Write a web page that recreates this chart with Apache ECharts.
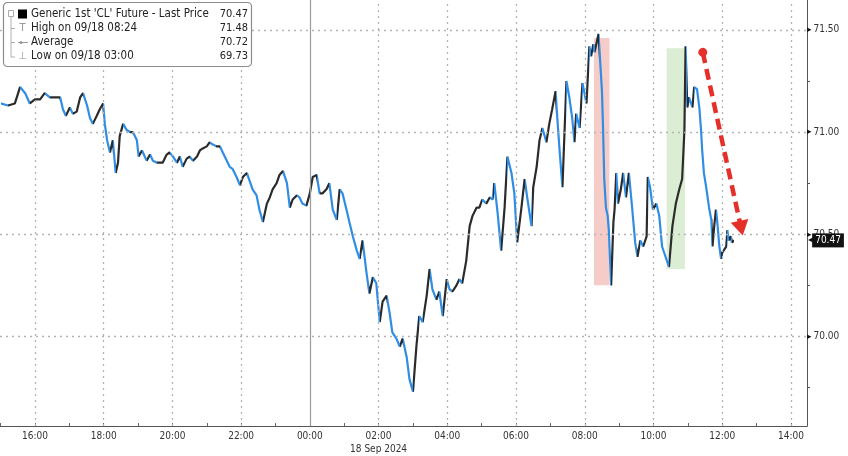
<!DOCTYPE html>
<html><head><meta charset="utf-8">
<script src="https://cdn.jsdelivr.net/npm/echarts@6/dist/echarts.min.js"></script>
<style>html,body{margin:0;padding:0;background:#fff}#c{width:848px;height:456px}</style>
</head><body><div id="c"></div>
<script>
// ---- data ----
const times = [
 '15:00','15:13','15:25','15:34','15:43','15:51','16:00','16:09','16:17','16:26',
 '16:35','16:44','16:49','16:54','17:01','17:06','17:13','17:19','17:24','17:31',
 '17:36','17:41','17:48','17:53','17:59','18:02','18:06','18:11','18:16','18:21',
 '18:25','18:28','18:34','18:40','18:46','18:51','18:58','19:01','19:07','19:15',
 '19:21','19:26','19:33','19:38','19:43','19:50','19:55','20:01','20:08','20:13',
 '20:18','20:25','20:30','20:36','20:43','20:48','20:53','21:00','21:05','21:10',
 '21:17','21:23','21:28','21:35','21:40','21:45','21:52','21:58','22:03','22:10',
 '22:15','22:20','22:27','22:32','22:38','22:45','22:50','22:55','23:02','23:07',
 '23:13','23:20','23:25','23:30','23:37','23:42','23:47','23:54','00:00','00:05',
 '00:12','00:17','00:22','00:29','00:34','00:40','00:47','00:52','00:57','01:04',
 '01:09','01:15','01:22','01:27','01:32','01:39','01:44','01:50','01:56','02:02',
 '02:07','02:14','02:19','02:24','02:31','02:37','02:42','02:49','02:54','03:00',
 '03:06','03:11','03:17','03:24','03:29','03:34','03:41','03:46','03:52','03:59',
 '04:04','04:09','04:16','04:21','04:26','04:33','04:39','04:44','04:51','04:56',
 '05:01','05:08','05:14','05:19','05:22','05:28','05:34','05:40','05:45','05:52',
 '05:57','06:02','06:09','06:15','06:20','06:27','06:30','06:36','06:41','06:46',
 '06:53','06:58','07:03','07:09','07:12','07:16','07:21','07:28','07:33','07:38',
 '07:42','07:45','07:51','07:56','08:03','08:08','08:11','08:15','08:17','08:24',
 '08:27','08:30','08:32','08:34','08:37','08:40','08:42','08:46','08:50','08:52',
 '08:55','08:58','09:03','09:07','09:12','09:17','09:23','09:28','09:32','09:37',
 '09:42','09:48','09:50','09:54','09:59','10:05','10:10','10:15','10:21','10:27',
 '10:33','10:39','10:45','10:50','10:54','10:56','10:59','11:02','11:08','11:11',
 '11:16','11:20','11:23','11:25','11:28','11:32','11:37','11:41','11:43','11:46',
 '11:49','11:51','11:55','11:58','12:00','12:07','12:09','12:11','12:15','12:17',
 '12:21'
];
const prices = [
 71.14,71.13,71.14,71.22,71.19,71.14,71.16,71.16,71.19,71.17,
 71.17,71.17,71.11,71.08,71.12,71.09,71.10,71.17,71.19,71.13,
 71.07,71.04,71.08,71.11,71.14,71.04,70.96,70.90,70.96,70.80,
 70.85,70.98,71.04,71.01,71.00,71.00,70.96,70.88,70.91,70.86,
 70.89,70.86,70.85,70.85,70.85,70.89,70.90,70.88,70.85,70.88,
 70.83,70.87,70.88,70.86,70.88,70.91,70.92,70.93,70.95,70.94,
 70.93,70.93,70.90,70.86,70.83,70.82,70.78,70.74,70.78,70.80,
 70.76,70.72,70.69,70.62,70.56,70.65,70.68,70.72,70.75,70.79,
 70.81,70.75,70.63,70.67,70.69,70.68,70.65,70.64,70.70,70.78,
 70.79,70.70,70.70,70.72,70.75,70.62,70.57,70.72,70.70,70.62,
 70.56,70.49,70.42,70.38,70.47,70.31,70.21,70.29,70.26,70.07,
 70.17,70.20,70.12,70.02,69.99,69.95,69.99,69.90,69.79,69.73,
 69.95,70.10,70.07,70.20,70.33,70.23,70.18,70.22,70.10,70.28,
 70.23,70.22,70.25,70.28,70.26,70.37,70.54,70.59,70.63,70.63,
 70.67,70.65,70.68,70.67,70.75,70.60,70.42,70.63,70.88,70.80,
 70.70,70.46,70.62,70.77,70.67,70.54,70.73,70.83,70.96,71.02,
 70.95,71.04,71.11,71.20,71.07,70.91,70.73,71.25,71.17,71.07,
 70.95,71.09,71.02,71.24,71.14,71.42,71.37,71.43,71.39,71.48,
 71.34,71.20,71.01,70.77,70.63,70.59,70.52,70.25,70.56,70.62,
 70.80,70.65,70.72,70.80,70.68,70.80,70.62,70.46,70.39,70.47,
 70.44,70.49,70.78,70.73,70.62,70.65,70.59,70.44,70.39,70.34,
 70.54,70.65,70.72,70.77,71.01,71.42,71.12,71.17,71.12,71.22,
 71.21,71.12,71.01,70.91,70.80,70.73,70.63,70.57,70.44,70.54,
 70.62,70.57,70.44,70.38,70.41,70.44,70.52,70.47,70.49,70.46,
 70.47
];
const lastPrice = 70.47;
const legendLabels = ["Generic 1st 'CL' Future - Last Price", 'High on 09/18 08:24', 'Average', 'Low on 09/18 03:00'];
const legendValues = ['70.47', '71.48', '70.72', '69.73'];
const xLabelTimes = ['09-17 16:00','09-17 18:00','09-17 20:00','09-17 22:00','09-18 00:00','09-18 02:00',
                     '09-18 04:00','09-18 06:00','09-18 08:00','09-18 10:00','09-18 12:00','09-18 14:00'];
const dayBreak = '09-18 00:00';
const dateLabel = '18 Sep 2024';
const dateLabelAt = '09-18 02:00';
const xRange = ['09-17 14:59', '09-18 14:28'];
const yRange = [69.562, 71.646];
const yLabelValues = [70, 70.5, 71, 71.5];
const yMinorValues = [69.75, 70.25, 70.75, 71.25];
const redZone = ['09-18 08:16', '09-18 08:43', 71.46, 70.25];
const greenZone = ['09-18 10:23', '09-18 10:55', 71.41, 70.33];
const arrowFrom = ['09-18 11:26', 71.39];
const arrowTo = ['09-18 12:33', 70.53];

// ---- helpers ----
function ts(s) {
  const [d, t] = s.split(' ');
  const [mo, da] = d.split('-').map(Number);
  const [h, m] = t.split(':').map(Number);
  return Date.UTC(2024, mo - 1, da, h, m);
}
const data = [];
let day = 17, prev = -1;
times.forEach((t, i) => {
  const [h, m] = t.split(':').map(Number);
  const mins = h * 60 + m;
  if (mins < prev) day = 18;
  prev = mins;
  data.push([Date.UTC(2024, 8, day, h, m), prices[i]]);
});
const UP = '#2b2b2b', DOWN = '#2f8de4';
const pieces = [];
for (let i = 0; i < data.length - 1; i++) {
  const p = { gte: data[i][0], color: data[i + 1][1] >= data[i][1] ? UP : DOWN };
  if (i < data.length - 2) p.lt = data[i + 1][0]; else p.lte = data[i + 1][0];
  pieces.push(p);
}
const hourTicks = [];
for (let t = ts('09-17 15:00'); t <= ts('09-18 14:00'); t += 3600000) hourTicks.push(t);
const pad = n => (n < 10 ? '0' : '') + n;
const FONT = "'DejaVu Sans Condensed', 'DejaVu Sans', sans-serif";

// legend graphic
const rowY = [14, 28.5, 42.5, 56.5];
const g = [
  { type: 'rect', z: 100, shape: { x: 3.5, y: 2.5, width: 248, height: 64, r: 4 }, style: { fill: '#fff', stroke: '#8c8c8c', lineWidth: 1.2 } },
  { type: 'polyline', z: 101, shape: { points: [[11, 17], [11, 57], [15, 57]] }, style: { stroke: '#b0b0b0', fill: null, lineWidth: 1 } },
  { type: 'polyline', z: 101, shape: { points: [[11, 28.5], [15, 28.5]] }, style: { stroke: '#b0b0b0', fill: null, lineWidth: 1 } },
  { type: 'polyline', z: 101, shape: { points: [[11, 42.5], [15, 42.5]] }, style: { stroke: '#b0b0b0', fill: null, lineWidth: 1 } },
  { type: 'rect', z: 101, shape: { x: 8.5, y: 10.5, width: 5, height: 6 }, style: { fill: '#fff', stroke: '#aaa', lineWidth: 1 } },
  { type: 'rect', z: 101, shape: { x: 18, y: 9.5, width: 9, height: 9 }, style: { fill: '#000' } },
  { type: 'text', z: 101, style: { text: 'T', x: 22.5, y: rowY[1], fill: '#999', font: "10px 'DejaVu Sans'", textAlign: 'center', textVerticalAlign: 'middle' } },
  { type: 'polyline', z: 101, shape: { points: [[18, 42.5], [28, 42.5]] }, style: { stroke: '#999', fill: null, lineWidth: 1 } },
  { type: 'circle', z: 101, shape: { cx: 21, cy: 42.5, r: 1.6 }, style: { fill: '#999' } },
  { type: 'text', z: 101, style: { text: '⊥', x: 22.5, y: rowY[3], fill: '#999', font: "10px 'DejaVu Sans'", textAlign: 'center', textVerticalAlign: 'middle' } }
];
legendLabels.forEach((s, i) => {
  g.push({ type: 'text', z: 101, style: { text: s, x: 31, y: rowY[i], fill: '#222', font: '11.5px ' + FONT, textVerticalAlign: 'middle' } });
  g.push({ type: 'text', z: 101, style: { text: legendValues[i], x: 248, y: rowY[i], fill: '#222', font: '11px ' + FONT, textAlign: 'right', textVerticalAlign: 'middle' } });
});

const gridDotted = { color: '#b4b4b4', type: [2, 4], width: 1.3 };
const option = {
  animation: false,
  backgroundColor: '#fff',
  textStyle: { fontFamily: FONT },
  grid: { left: 0, right: 41, top: 0, bottom: 28, containLabel: false },
  xAxis: {
    type: 'value', min: ts(xRange[0]), max: ts(xRange[1]),
    axisLine: { show: true, lineStyle: { color: '#555', width: 1 } },
    axisTick: { show: true, customValues: hourTicks, inside: true, length: 3, lineStyle: { color: '#666' } },
    axisLabel: {
      customValues: xLabelTimes.map(ts), color: '#333', fontSize: 10, margin: 4, lineHeight: 13, fontFamily: FONT,
      hideOverlap: false,
      formatter: v => {
        const d = new Date(v);
        let s = pad(d.getUTCHours()) + ':' + pad(d.getUTCMinutes());
        if (v === ts(dateLabelAt)) s += '\n' + dateLabel;
        return s;
      }
    },
    splitLine: { show: false }
  },
  yAxis: {
    type: 'value', position: 'right', min: yRange[0], max: yRange[1],
    axisLine: { show: true, lineStyle: { color: '#555', width: 1 } },
    axisTick: { show: true, customValues: yMinorValues, length: 3, lineStyle: { color: '#555' } },
    axisLabel: {
      customValues: yLabelValues, margin: 0,
      formatter: v => '{t|▸}{v|' + v.toFixed(2) + '}',
      rich: {
        t: { fontFamily: 'DejaVu Sans', fontSize: 9, color: '#111' },
        v: { fontFamily: FONT, fontSize: 10, color: '#333', padding: [0, 0, 0, 2] }
      }
    },
    splitLine: { show: false }
  },
  visualMap: { type: 'piecewise', show: false, dimension: 0, seriesIndex: 1, pieces: pieces },
  graphic: g,
  series: [
    {
      type: 'line', data: [], silent: true, z: 1,
      markLine: {
        symbol: 'none', silent: true, label: { show: false }, lineStyle: gridDotted,
        data: [
          ...yLabelValues.map(v => ({ yAxis: v })),
          ...xLabelTimes.filter(t => t !== dayBreak).map(t => ({ xAxis: ts(t) })),
          { xAxis: ts(dayBreak), lineStyle: { type: 'solid', color: '#9c9c9c', width: 1.2 } }
        ]
      },
      markArea: {
        silent: true,
        data: [
          [{ coord: [ts(redZone[0]), redZone[2]], itemStyle: { color: 'rgba(240,170,165,0.6)' } }, { coord: [ts(redZone[1]), redZone[3]] }],
          [{ coord: [ts(greenZone[0]), greenZone[2]], itemStyle: { color: 'rgba(200,228,186,0.65)' } }, { coord: [ts(greenZone[1]), greenZone[3]] }]
        ]
      }
    },
    {
      type: 'line', data: data, z: 3, showSymbol: false, symbol: 'none', silent: true,
      lineStyle: { width: 2.2 }
    },
    {
      type: 'line', data: [], silent: true, z: 5,
      markLine: {
        silent: true,
        label: { show: false },
        lineStyle: { color: '#e5302a', type: [11, 6], width: 4.5 },
        itemStyle: { color: '#e5302a' },
        data: [
          [
            { coord: [ts(arrowFrom[0]), arrowFrom[1]], symbol: 'circle', symbolSize: 9 },
            { coord: [ts(arrowTo[0]), arrowTo[1]], symbol: 'triangle', symbolSize: [18, 15] }
          ]
        ]
      }
    },
    {
      type: 'line', data: [], silent: true, z: 6,
      markLine: {
        silent: true, symbol: 'none',
        lineStyle: { color: 'rgba(0,0,0,0)', width: 1, type: 'solid' },
        label: {
          show: true, position: 'end', distance: 1,
          formatter: '{p|◀}{b|' + lastPrice.toFixed(2) + '}',
          rich: {
            p: { fontFamily: 'DejaVu Sans', fontSize: 8, color: '#111', padding: [0, -2, 0, 0] },
            b: { fontFamily: FONT, fontSize: 10, color: '#fff', backgroundColor: '#111', padding: [2, 3, 2, 3] }
          }
        },
        data: [{ yAxis: lastPrice }]
      }
    }
  ]
};
const chart = echarts.init(document.getElementById('c'), null, { renderer: 'canvas' });
chart.setOption(option);
</script>
</body></html>
